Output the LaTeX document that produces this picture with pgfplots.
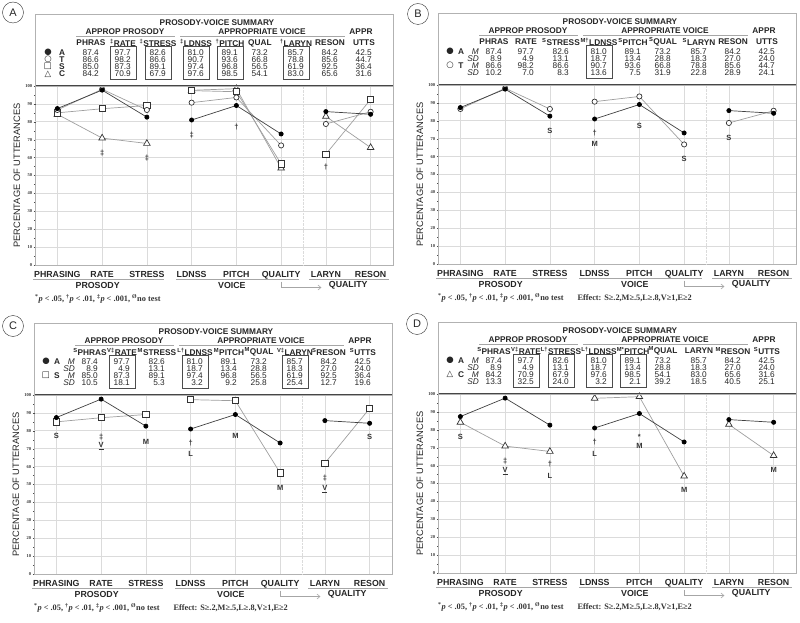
\documentclass[border=0pt]{standalone}
\usepackage{pgfplots}
\pgfplotsset{compat=1.18}
\usepackage{fontspec}
\setmainfont{Liberation Sans}
\newfontfamily\serif{Liberation Serif}
\newfontfamily\dejavu{DejaVu Sans}
\usetikzlibrary{arrows.meta}

\newcommand\hf{\fontsize{8.3}{9}\selectfont}
\newcommand\s[1]{\textsuperscript{#1}}
% column centres of the summary table (pt from the left of the box)
\newcommand\hrow[2]{\foreach \cell [count=\i from 0] in {#2}{%
  \pgfmathsetmacro\cx{{56,88,123,161,195,225,261,295,329}[\i]}%
  \node[inner sep=0pt] at (\cx,-#1) {\cell};}}
\newcommand\vrow[2]{\foreach \cell [count=\i from 0] in {#2}{%
  \pgfmathsetmacro\cx{{56,88,123,161,195,225,261,295,329}[\i]}%
  \node[inner sep=0pt, anchor=east] at (\cx+8,-#1) {\cell};}}
\newcommand\cbox[1]{\draw[gray!60!black, line width=0.5pt] ({#1-13},-32.2) rectangle ({#1+13},-65);}
\newcommand\hdrbase{%
  \draw[gray!60, line width=0.6pt] (0,0) rectangle (358,-72);
  \node[font=\hf\bfseries] at (182,-8.5) {PROSODY-VOICE SUMMARY};
  \node[font=\hf\bfseries] at (90,-18) {APPROP PROSODY};
  \node[font=\hf\bfseries] at (227,-18) {APPROPRIATE VOICE};
  \node[font=\hf\bfseries] at (326,-18) {APPR};
  \draw[gray!70, line width=0.6pt] (41,-22) -- (140,-22) (145,-22) -- (310,-22);}
\newcommand\an[3]{\node[font=\fontsize{7.5}{8}\selectfont\bfseries, text=black!80, inner sep=0pt] at (axis cs:#1,#2) {#3};}
\newcommand\fn{\textsuperscript{*}\textit{p} < .05, \textsuperscript{†}\textit{p} < .01, \textsuperscript{‡}\textit{p} < .001, \textsuperscript{Ø}no test}
\def\eff{}

\pgfplotsset{
  panel/.style={
    scale only axis, width=358pt, height=179pt, anchor=south west,
    xmin=-0.5, xmax=7.5, ymin=0, ymax=100,
    xtick={0,...,7},
    xticklabels={PHRASING,RATE,STRESS,LDNSS,PITCH,QUALITY,LARYN,RESON},
    x tick label style={font=\fontsize{8.8}{9}\selectfont\bfseries, text=black!85, anchor=north, inner sep=0pt, yshift=-5pt},
    ytick={0,10,...,100}, minor y tick num=1,
    y tick label style={font=\serif\bfseries\fontsize{4.5}{5}\selectfont, text=black!80, inner sep=1.5pt},
    /pgf/number format/assume math mode=true,
    ytick pos=left, xtick style={draw=none},
    ytick style={gray!60!black}, tick align=center,
    major tick length=2.5pt, minor tick length=2pt,
    xmajorgrids, ymajorgrids, major grid style={gray!28, line width=0.7pt},
    extra y ticks={80,90}, extra y tick labels={},
    extra y tick style={grid=major, grid style={densely dotted, gray!20!black, line width=0.6pt}},
    extra x ticks={5.5}, extra x tick labels={},
    extra x tick style={grid=major, grid style={densely dotted, gray!20!black, line width=0.6pt}},
    axis line style={gray!60},
    unbounded coords=jump, clip=false,
    after end axis/.code={
      \draw[gray!55!black, line width=1.6pt] (rel axis cs:0,1) -- (rel axis cs:1,1);
      \draw[gray!70, line width=0.7pt] ([yshift=-14pt]axis cs:-0.54,0) -- ([yshift=-14pt]axis cs:2.38,0)
        ([yshift=-14pt]axis cs:2.65,0) -- ([yshift=-14pt]axis cs:5.4,0)
        ([yshift=-14pt]axis cs:5.63,0) -- ([yshift=-14pt]axis cs:7.4,0);
      \node[font=\fontsize{8.8}{9}\selectfont\bfseries, text=black!85] at ([yshift=-20.5pt]axis cs:0.9,0) {PROSODY};
      \node[font=\fontsize{8.8}{9}\selectfont\bfseries, text=black!85] at ([yshift=-20.5pt]axis cs:3.9,0) {VOICE};
      \node[font=\fontsize{8.8}{9}\selectfont\bfseries, text=black!85] at ([yshift=-20.5pt]axis cs:6.5,0) {QUALITY};
      \draw[gray!70, line width=0.6pt, -{Straight Barb[length=3pt,width=5pt]}]
        ([yshift=-16.5pt]axis cs:5,0) -- ([yshift=-22.5pt]axis cs:5,0) -- ([yshift=-22.5pt]axis cs:5.9,0);
      \node[anchor=west, inner sep=0pt, font=\serif\bfseries\fontsize{8.3}{9}\selectfont, text=black!80]
        at ([yshift=-34pt]axis cs:-0.5,0) {\fn\eff};
      \node[rotate=90, font=\fontsize{9.3}{10}\selectfont, text=black!85] at ([xshift=-18pt]rel axis cs:0,0.5) {PERCENTAGE OF UTTERANCES};
    }},
  sA/.style={color=gray!50!black, line width=0.7pt, mark=*, mark size=2.1pt, mark options={fill=black, draw=black}},
  sT/.style={color=gray!75, line width=0.7pt, mark=*, mark size=2.6pt, mark options={fill=white, draw=gray!40!black}},
  sS/.style={color=gray!75, line width=0.7pt, mark=square*, mark size=3.1pt, mark options={fill=white, draw=gray!40!black}},
  sC/.style={color=gray!75, line width=0.7pt, mark=triangle*, mark size=3.8pt, mark options={fill=white, draw=gray!40!black}},
}

\begin{document}
\begin{tikzpicture}[x=1pt,y=1pt]
\useasboundingbox (0,0) rectangle (800,622);

% ---------------- panel A
\begin{axis}[panel, at={(35pt,357pt)}]
\addplot[sC] coordinates {(0,84.2)(1,70.9)(2,67.9)(2.5,nan)(3,97.6)(4,98.5)(5,54.1)(5.5,nan)(6,83.0)(7,65.6)};
\addplot[sS] coordinates {(0,85.0)(1,87.3)(2,89.1)(2.5,nan)(3,97.4)(4,96.8)(5,56.5)(5.5,nan)(6,61.9)(7,92.5)};
\addplot[sT] coordinates {(0,86.6)(1,98.2)(2,86.6)(2.5,nan)(3,90.7)(4,93.6)(5,66.8)(5.5,nan)(6,78.8)(7,85.6)};
\addplot[sA] coordinates {(0,87.4)(1,97.7)(2,82.6)(2.5,nan)(3,81.0)(4,89.1)(5,73.2)(5.5,nan)(6,85.7)(7,84.2)};
\an{1}{62.6}{‡}\an{2}{59.8}{‡}\an{3}{72.6}{‡}\an{4}{77.3}{†}\an{6}{54.7}{†}
\end{axis}
\begin{scope}[shift={(35,608)}, font=\hf, text=black!85]
\hdrbase
\begin{scope}[font=\hf\bfseries]
\hrow{29}{PHRAS,\s{‡}RATE,\s{‡}STRESS,\s{‡}LDNSS,\s{†}PITCH,QUAL,\s{†}LARYN,RESON,UTTS}
\node at (27,-38.3) {A}; \node at (27,-45.3) {T}; \node at (27,-52.7) {S}; \node at (27,-60) {C};
\end{scope}
\vrow{38.3}{87.4,97.7,82.6,81.0,89.1,73.2,85.7,84.2,42.5}
\vrow{45.3}{86.6,98.2,86.6,90.7,93.6,66.8,78.8,85.6,44.7}
\vrow{52.7}{85.0,87.3,89.1,97.4,96.8,56.5,61.9,92.5,36.4}
\vrow{60}{84.2,70.9,67.9,97.6,98.5,54.1,83.0,65.6,31.6}
\cbox{88}\cbox{123}\cbox{161}\cbox{195}\cbox{261}
\begin{scope}[font=\dejavu\fontsize{8.5}{9}\selectfont, inner sep=0pt]
\node at (13,-38.3) {●}; \node at (13,-45.3) {○}; \node at (13,-52.7) {□}; \node at (13,-60) {△};
\end{scope}
\end{scope}

% ---------------- panel B
\def\eff{\hspace{14pt}Effect: S≥.2,M≥.5,L≥.8,V≥1,E≥2}
\begin{axis}[panel, at={(438pt,358pt)}]
\addplot[sT] coordinates {(0,86.6)(1,98.2)(2,86.6)(2.5,nan)(3,90.7)(4,93.6)(5,66.8)(5.5,nan)(6,78.8)(7,85.6)};
\addplot[sA] coordinates {(0,87.4)(1,97.7)(2,82.6)(2.5,nan)(3,81.0)(4,89.1)(5,73.2)(5.5,nan)(6,85.7)(7,84.2)};
\an{2}{74.3}{S}\an{3}{73.4}{†}\an{3}{66.9}{M}\an{4}{77.1}{S}\an{5}{58.7}{S}\an{6}{70.4}{S}
\end{axis}
\begin{scope}[shift={(438,609)}, font=\hf, text=black!85]
\hdrbase
\begin{scope}[font=\hf\bfseries]
\hrow{29}{PHRAS,RATE,\s{S}STRESS,\s{M†}LDNSS,\s{S}PITCH,\s{S}QUAL,\s{S}LARYN,RESON,UTTS}
\node at (23,-38.3) {A}; \node at (23,-52.7) {T};
\end{scope}
\begin{scope}[font=\hf\itshape, inner sep=0pt]
\node[anchor=east] at (41,-38.3) {M}; \node[anchor=east] at (41,-45.3) {SD};
\node[anchor=east] at (41,-52.7) {M}; \node[anchor=east] at (41,-60) {SD};
\end{scope}
\vrow{38.3}{87.4,97.7,82.6,81.0,89.1,73.2,85.7,84.2,42.5}
\vrow{45.3}{8.9,4.9,13.1,18.7,13.4,28.8,18.3,27.0,24.0}
\vrow{52.7}{86.6,98.2,86.6,90.7,93.6,66.8,78.8,85.6,44.7}
\vrow{60}{10.2,7.0,8.3,13.6,7.5,31.9,22.8,28.9,24.1}
\cbox{161}
\begin{scope}[font=\dejavu\fontsize{8.5}{9}\selectfont, inner sep=0pt]
\node at (12,-38.3) {●}; \node at (12,-52.7) {○};
\end{scope}
\end{scope}

% ---------------- panel C
\begin{axis}[panel, at={(34pt,48pt)}]
\addplot[sS] coordinates {(0,85.0)(1,87.3)(2,89.1)(2.5,nan)(3,97.4)(4,96.8)(5,56.5)(5.5,nan)(6,61.9)(7,92.5)};
\addplot[sA] coordinates {(0,87.4)(1,97.7)(2,82.6)(2.5,nan)(3,81.0)(4,89.1)(5,73.2)(5.5,nan)(6,85.7)(7,84.2)};
\an{0}{77.1}{S}\an{1}{76.7}{‡}\an{1}{71.5}{\underline{V}}\an{2}{73.7}{M}\an{3}{73.4}{†}\an{3}{67}{L}
\an{4}{77.3}{M}\an{5}{48}{M}\an{6}{53.8}{‡}\an{6}{47.5}{\underline{V}}\an{7}{76.5}{S}
\end{axis}
\begin{scope}[shift={(34,299)}, font=\hf, text=black!85]
\hdrbase
\begin{scope}[font=\hf\bfseries]
\hrow{29}{\s{S}PHRAS,\s{V‡}RATE,\s{M}STRESS,\s{L†}LDNSS,\s{M}PITCH,\s{M}QUAL,\s{V‡}LARYN,\s{S}RESON,\s{S}UTTS}
\node at (23,-38.3) {A}; \node at (23,-52.7) {S};
\end{scope}
\begin{scope}[font=\hf\itshape, inner sep=0pt]
\node[anchor=east] at (41,-38.3) {M}; \node[anchor=east] at (41,-45.3) {SD};
\node[anchor=east] at (41,-52.7) {M}; \node[anchor=east] at (41,-60) {SD};
\end{scope}
\vrow{38.3}{87.4,97.7,82.6,81.0,89.1,73.2,85.7,84.2,42.5}
\vrow{45.3}{8.9,4.9,13.1,18.7,13.4,28.8,18.3,27.0,24.0}
\vrow{52.7}{85.0,87.3,89.1,97.4,96.8,56.5,61.9,92.5,36.4}
\vrow{60}{10.5,18.1,5.3,3.2,9.2,25.8,25.4,12.7,19.6}
\cbox{88}\cbox{161}\cbox{261}
\begin{scope}[font=\dejavu\fontsize{8.5}{9}\selectfont, inner sep=0pt]
\node at (12,-38.3) {●}; \node at (12,-52.7) {□};
\end{scope}
\end{scope}

% ---------------- panel D
\begin{axis}[panel, at={(438pt,49pt)}]
\addplot[sC] coordinates {(0,84.2)(1,70.9)(2,67.9)(2.5,nan)(3,97.6)(4,98.5)(5,54.1)(5.5,nan)(6,83.0)(7,65.6)};
\addplot[sA] coordinates {(0,87.4)(1,97.7)(2,82.6)(2.5,nan)(3,81.0)(4,89.1)(5,73.2)(5.5,nan)(6,85.7)(7,84.2)};
\an{0}{76.2}{S}\an{1}{62.4}{‡}\an{1}{56.9}{\underline{V}}\an{2}{60.8}{†}\an{2}{54.1}{L}
\an{3}{73.1}{†}\an{3}{66.7}{L}\an{4}{76.2}{*}\an{4}{71.2}{M}\an{5}{46.4}{M}\an{7}{57.5}{M}
\end{axis}
\begin{scope}[shift={(438,300)}, font=\hf, text=black!85]
\hdrbase
\begin{scope}[font=\hf\bfseries]
\hrow{29}{\s{S}PHRAS,\s{V‡}RATE,\s{L†}STRESS,\s{L†}LDNSS,\s{M*}PITCH,\s{M}QUAL,LARYN,\s{M}RESON,\s{S}UTTS}
\node at (23,-38.3) {A}; \node at (23,-52.7) {C};
\end{scope}
\begin{scope}[font=\hf\itshape, inner sep=0pt]
\node[anchor=east] at (41,-38.3) {M}; \node[anchor=east] at (41,-45.3) {SD};
\node[anchor=east] at (41,-52.7) {M}; \node[anchor=east] at (41,-60) {SD};
\end{scope}
\vrow{38.3}{87.4,97.7,82.6,81.0,89.1,73.2,85.7,84.2,42.5}
\vrow{45.3}{8.9,4.9,13.1,18.7,13.4,28.8,18.3,27.0,24.0}
\vrow{52.7}{84.2,70.9,67.9,97.6,98.5,54.1,83.0,65.6,31.6}
\vrow{60}{13.3,32.5,24.0,3.2,2.1,39.2,18.5,40.5,25.1}
\cbox{88}\cbox{123}\cbox{161}\cbox{195}
\begin{scope}[font=\dejavu\fontsize{8.5}{9}\selectfont, inner sep=0pt]
\node at (12,-38.3) {●}; \node at (12,-52.7) {△};
\end{scope}
\end{scope}

% ---------------- panel letters
\begin{scope}[every node/.style={draw=gray!40!black, circle, minimum size=21pt, inner sep=0pt, font=\fontsize{11}{12}\selectfont, text=gray!30!black}]
\node at (13,609.5) {A};
\node at (418,608) {B};
\node at (13,296) {C};
\node at (417,298) {D};
\end{scope}
\end{tikzpicture}
\end{document}
